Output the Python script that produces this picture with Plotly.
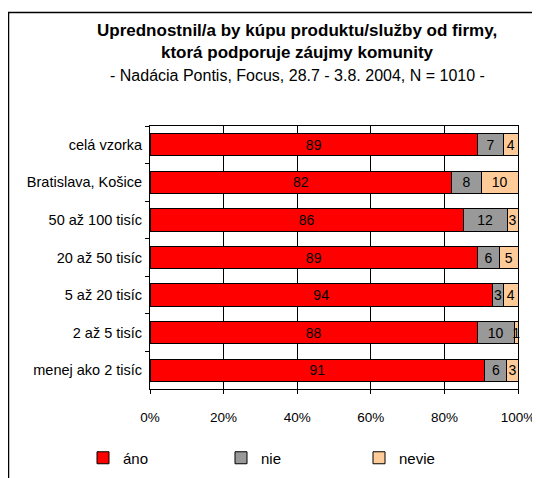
import plotly.graph_objects as go

# data (top to bottom as in the picture)
categories = ['celá vzorka', 'Bratislava, Košice', '50 až 100 tisíc', '20 až 50 tisíc',
              '5 až 20 tisíc', '2 až 5 tisíc', 'menej ako 2 tisíc']
ano = [89, 82, 86, 89, 94, 88, 91]
nie = [7, 8, 12, 6, 3, 10, 6]
nevie = [4, 10, 3, 5, 4, 1, 3]

series = [('áno', ano, '#FF0000'), ('nie', nie, '#999999'), ('nevie', nevie, '#FFCC99')]

FONT = 'Liberation Sans'
# the page body adds an 8px margin, so the figure is 8px smaller than the window
OFF = 8
W, H = 540 - OFF, 478 - OFF
L, R, T, B = 150 - OFF, 22, 126 - OFF, 89

fig = go.Figure()
for name, vals, color in series:
    fig.add_trace(go.Bar(
        y=categories, x=vals, name=name, orientation='h',
        marker=dict(color=color, line=dict(color='black', width=1)),
        text=[str(v) for v in vals], textposition='inside', insidetextanchor='middle',
        textangle=0, constraintext='none', cliponaxis=False,
        textfont=dict(family=FONT, size=14, color='black'),
    ))

# window pixel position -> paper units
pw, ph = W - L - R, H - T - B
def px(x):
    return (x - OFF - L) / pw
def py(y):
    return (H - B - (y - OFF)) / ph

# chart frame
fig.add_shape(type='rect', xref='paper', yref='paper',
              x0=px(8.5), x1=px(560), y0=py(500), y1=py(12.5),
              line=dict(color='black', width=1.5), fillcolor='rgba(0,0,0,0)', layer='above')

titles = [
    ('<b>Upřednostnil/a by kúpu produktu/služby od firmy,</b>'.replace('ř', 'r'), 30, 17),
    ('<b>ktorá podporuje záujmy komunity</b>', 52, 17),
    ('- Nadácia Pontis, Focus, 28.7 - 3.8. 2004, N = 1010 -', 75, 16),
]
for txt, y, size in titles:
    fig.add_annotation(text=txt, xref='paper', yref='paper', x=px(297), y=py(y),
                       xanchor='center', yanchor='middle', showarrow=False,
                       font=dict(family=FONT, size=size, color='black'))

fig.update_layout(
    barmode='stack', barnorm='percent', bargap=0.41,
    width=W, height=H,
    margin=dict(l=L, r=R, t=T, b=B, autoexpand=False),
    paper_bgcolor='white', plot_bgcolor='white',
    font=dict(family=FONT, size=14, color='black'),
    legend=dict(orientation='h', x=px(83), xanchor='left', y=py(458), yanchor='middle',
                entrywidth=93, traceorder='normal', itemwidth=30,
                font=dict(family=FONT, size=15)),
    showlegend=True,
)

fig.update_xaxes(range=[0, 100], tickvals=[0, 20, 40, 60, 80, 100],
                 ticktext=['0%', '20%', '40%', '60%', '80%', '100%'],
                 showgrid=True, gridcolor='black', gridwidth=1,
                 showline=True, linecolor='black', linewidth=1, mirror=True,
                 ticks='outside', ticklen=4, tickcolor='black', automargin=False,
                 ticklabelstandoff=12, ticklabeloverflow='allow',
                 tickfont=dict(size=13.5), zeroline=False)
fig.update_yaxes(autorange='reversed', showline=True, linecolor='black', linewidth=1,
                 mirror=True, ticks='outside', tickson='boundaries', ticklen=4,
                 tickcolor='black', automargin=False,
                 ticklabelstandoff=4, tickfont=dict(size=14.5))

fig.write_html('out.html')
